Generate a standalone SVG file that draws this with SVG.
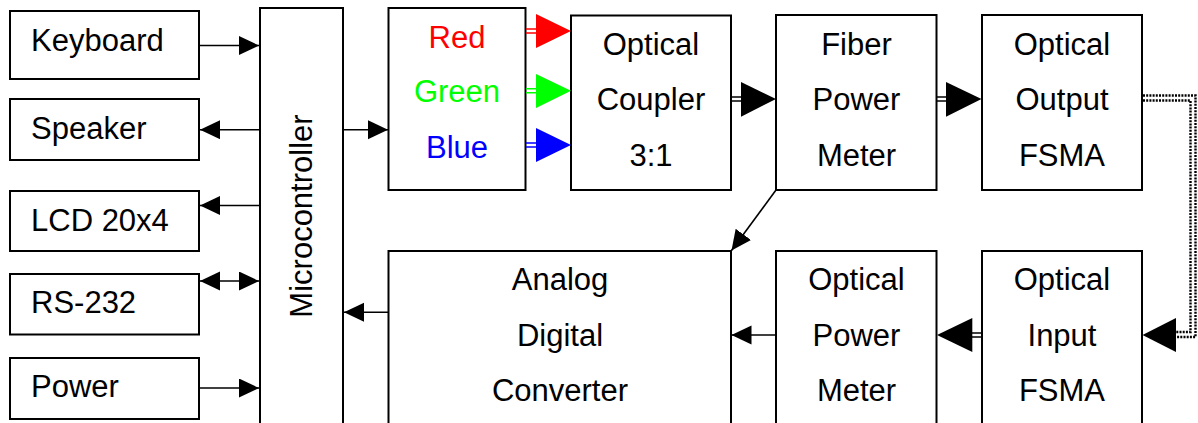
<svg xmlns="http://www.w3.org/2000/svg" width="1198" height="423" viewBox="0 0 1198 423">
<style>
.box{fill:#fff;stroke:#000;stroke-width:2}
.t{font-family:"Liberation Sans",Arial,sans-serif;font-size:31px;fill:#000}
.c{text-anchor:middle}
.ln{stroke:#000;stroke-width:1.6;fill:none}
.dl{stroke-width:1.4;fill:none}
.dot{stroke:#000;stroke-width:2.4;stroke-dasharray:2 1.2;fill:none}
</style>
<defs>
<marker id="ah" markerUnits="userSpaceOnUse" markerWidth="21" markerHeight="20" refX="20" refY="9.5" orient="auto-start-reverse" viewBox="0 0 21 20">
<path d="M0,0 L20,9.5 L0,19 z" fill="#000"/>
</marker>
</defs>
<rect width="1198" height="423" fill="#fff"/>

<g id="keyboard"><rect class="box" x="10" y="11" width="189" height="68"/><text class="t" x="31" y="51">Keyboard</text></g>
<g id="speaker"><rect class="box" x="10" y="99" width="189" height="61"/><text class="t" x="31" y="139">Speaker</text></g>
<g id="lcd"><rect class="box" x="10" y="191" width="189" height="60"/><text class="t" x="31" y="231">LCD 20x4</text></g>
<g id="rs232"><rect class="box" x="10" y="274" width="189" height="60.5"/><text class="t" x="31" y="313">RS-232</text></g>
<g id="power"><rect class="box" x="10" y="358" width="189" height="61"/><text class="t" x="31" y="397">Power</text></g>
<g id="micro"><rect class="box" x="260" y="8" width="83" height="430"/><text class="t c" transform="translate(312,216) rotate(-90)" x="0" y="0">Microcontroller</text></g>
<g id="rgb"><rect class="box" x="388.5" y="8" width="137" height="182"/>
<text class="t c" x="457" y="48" style="fill:#ff0000">Red</text>
<text class="t c" x="457" y="102" style="fill:#00ff00">Green</text>
<text class="t c" x="457" y="158" style="fill:#0000ff">Blue</text></g>
<g id="coupler"><rect class="box" x="571" y="15.5" width="160" height="174.5"/>
<text class="t c" x="651" y="55">Optical</text><text class="t c" x="651" y="110">Coupler</text><text class="t c" x="651" y="166">3:1</text></g>
<g id="fiber"><rect class="box" x="776" y="15" width="160.5" height="175"/>
<text class="t c" x="856.5" y="55">Fiber</text><text class="t c" x="856.5" y="110">Power</text><text class="t c" x="856.5" y="166">Meter</text></g>
<g id="output"><rect class="box" x="982" y="15" width="160" height="175"/>
<text class="t c" x="1062" y="55">Optical</text><text class="t c" x="1062" y="110">Output</text><text class="t c" x="1062" y="166">FSMA</text></g>
<g id="adc"><rect class="box" x="388.5" y="251" width="342.5" height="190"/>
<text class="t c" x="560" y="290">Analog</text><text class="t c" x="560" y="346">Digital</text><text class="t c" x="560" y="401">Converter</text></g>
<g id="opm"><rect class="box" x="776" y="251" width="160.5" height="190"/>
<text class="t c" x="856.5" y="290">Optical</text><text class="t c" x="856.5" y="346">Power</text><text class="t c" x="856.5" y="401">Meter</text></g>
<g id="input"><rect class="box" x="982" y="251" width="160" height="190"/>
<text class="t c" x="1062" y="290">Optical</text><text class="t c" x="1062" y="346">Input</text><text class="t c" x="1062" y="401">FSMA</text></g>

<g id="connectors">
<line class="ln" x1="200" y1="45.5" x2="259" y2="45.5" marker-end="url(#ah)"/>
<line class="ln" x1="259" y1="129.7" x2="200" y2="129.7" marker-end="url(#ah)"/>
<line class="ln" x1="259" y1="205.5" x2="200" y2="205.5" marker-end="url(#ah)"/>
<line class="ln" x1="200" y1="281" x2="259" y2="281" marker-start="url(#ah)" marker-end="url(#ah)"/>
<line class="ln" x1="200" y1="388" x2="259" y2="388" marker-end="url(#ah)"/>
<line class="ln" x1="344" y1="129.7" x2="388" y2="129.7" marker-end="url(#ah)"/>
<line class="ln" x1="388" y1="312.3" x2="344" y2="312.3" marker-end="url(#ah)"/>
<line class="ln" x1="776" y1="335" x2="731.5" y2="335" marker-end="url(#ah)"/>
<line class="ln" x1="776" y1="190" x2="731.5" y2="250.5" marker-end="url(#ah)"/>

<path class="dl" stroke="#ff0000" d="M526,29 H537 M526,33 H537"/>
<polygon points="536,14 571,31 536,48" fill="#ff0000"/>
<path class="dl" stroke="#00ff00" d="M526,88.7 H537 M526,92.7 H537"/>
<polygon points="536,74 571,90.7 536,108" fill="#00ff00"/>
<path class="dl" stroke="#0000ff" d="M526,143 H537 M526,147 H537"/>
<polygon points="536,128 571,145 536,162" fill="#0000ff"/>

<path class="dl" stroke="#000" d="M732,97 H742 M732,101 H742"/>
<polygon points="741,82 776,99 741,116.7" fill="#000"/>
<path class="dl" stroke="#000" d="M937,97 H947 M937,101 H947"/>
<polygon points="946,82 981.5,99 946,116.7" fill="#000"/>

<path class="dl" stroke="#000" d="M971,333 H982 M971,337 H982"/>
<polygon points="972.3,318 937,335 972.3,352" fill="#000"/>

<path class="dot" d="M1143,95.5 H1195.5 V337 H1174"/>
<path class="dot" d="M1143,100.5 H1190.5 V332 H1174"/>
<polygon points="1176,318 1142.5,335 1176,352" fill="#000"/>
</g>
</svg>
